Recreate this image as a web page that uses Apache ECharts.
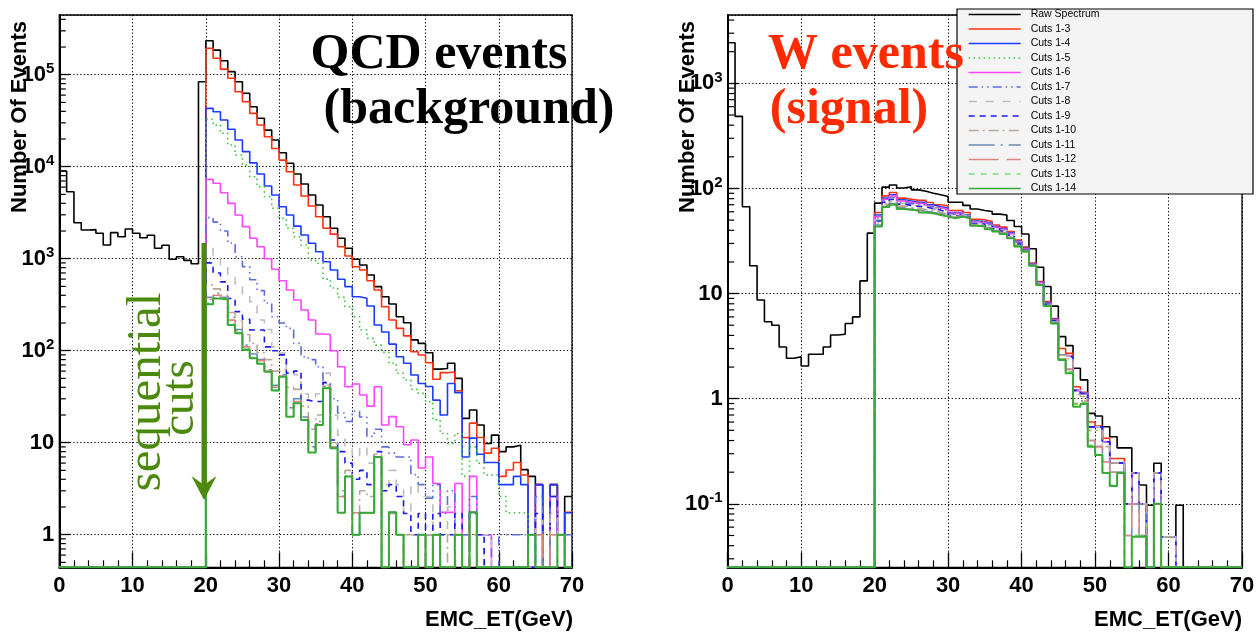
<!DOCTYPE html>
<html><head><meta charset="utf-8">
<script src="https://cdn.jsdelivr.net/npm/echarts@6/dist/echarts.min.js"></script>
<style>html,body{margin:0;padding:0;background:#fff;}#c{width:1259px;height:643px;}</style>
</head><body><div id="c"></div>
<script>
// ---------------- data ----------------
const binLowEdges = [0,1,2,3,4,5,6,7,8,9,10,11,12,13,14,15,16,17,18,19,20,21,22,23,24,25,26,27,28,29,30,31,32,33,34,35,36,37,38,39,40,41,42,43,44,45,46,47,48,49,50,51,52,53,54,55,56,57,58,59,60,61,62,63,64,65,66,67,68,69];
const binWidth = 1;
const xTickValues = [0,10,20,30,40,50,60,70];
const seriesNames = ['Raw Spectrum','Cuts 1-3','Cuts 1-4','Cuts 1-5','Cuts 1-6','Cuts 1-7','Cuts 1-8','Cuts 1-9','Cuts 1-10','Cuts 1-11','Cuts 1-12','Cuts 1-13','Cuts 1-14'];

// QCD events (background), left panel, one value per 1 GeV bin
const qcdRaw = [9000,5350,2460,2050,2070,1890,1410,1920,1730,2100,1890,1690,1800,1300,1400,985,1050,960,880,84000,
234000,185000,142000,108000,84000,62800,44900,33600,25000,19500,
14200,10900,8330,6490,4920,3830,2860,2140,1670,1300,
985,855,665,497,386,322,234,201,131,120,
95,63,64,73,50,18.4,22.7,15.6,9.8,12.1,
8.0,9.0,9.4,5.1,4.3,3.5,0,3.5,1,2.6];
const qcdCut3 = [0,0,0,0,0,0,0,0,0,0,0,0,0,0,0,0,0,0,0,0,
194000,151000,115000,91400,65300,50900,38000,28400,21200,15800,
11800,8830,6330,4800,3740,2860,2140,1850,1350,1070,
819,754,576,457,301,216,175,145,97.5,89.7,
74,48.9,57.7,58.7,36.7,11.4,16.3,11.4,7.7,8.7,
4.3,5.05,6.1,4.45,1,3.5,0,3.5,1,1.75];
const qcdCut4 = [0,0,0,0,0,0,0,0,0,0,0,0,0,0,0,0,0,0,0,0,
43100,39600,32200,25500,19500,14600,11000,8330,6170,4920,
3670,2990,2260,1810,1470,1190,927,754,597,497,
386,371,306,190,160,118,86,73,54.5,44,
40.8,29,20,44,35,7,11.2,7.5,6.1,6.1,
3.5,3.5,4.3,3.5,0,3.5,0,3.5,1,1.73];
const qcdCut5 = [0,0,0,0,0,0,0,0,0,0,0,0,0,0,0,0,0,0,0,0,
32800,28400,23100,17200,13400,10400,7790,6070,4720,3530,
2750,2140,1730,1410,968,891,600,480,380,300,
234,168,136,115,96,73,56.8,48,38,34.4,
27.9,17.7,12.6,9.8,12.6,4.3,9.0,6.0,4.45,4.45,
2.6,1.73,1.73,1.73,1,1,1,1,1,1];
const qcdCut6 = [0,0,0,0,0,0,0,0,0,0,0,0,0,0,0,0,0,0,0,0,
7300,6610,5210,4000,2990,2230,1670,1350,1000,767,
576,457,356,277,216,152,150,100,67,40.6,
43.5,33,25,40.6,15.6,19.2,14.9,9.5,10.7,5.3,
7.0,3.6,1.75,1.75,3.6,1,4.3,1,1,0,
0,0,0,0,0,0,0,2.6,1,0];
const qcdCut7 = [0,0,0,0,0,0,0,0,0,0,0,0,0,0,0,0,0,0,0,0,
2800,2500,2000,1480,1050,820,590,450,330,234,
200,175,120,86,80,67,45,30,21,17,
22,19,11.7,14,9,7.7,7,7,4.5,3.5,
2.5,3.5,1.7,3,1,1,2.6,1,1,0,
1,1,1,1,0,2.6,0,2.6,1,1];
const qcdCut8 = [0,0,0,0,0,0,0,0,0,0,0,0,0,0,0,0,0,0,0,0,
1360,1050,820,640,500,400,341,216,170,110,
94,62,55,34,30,34,57,20,12,9,
7,9,6,7,3.5,5,3.5,1.7,3.5,2.6,
2.6,1,1,2,1,0,1.7,0,1,0,
0,0,0,0,0,1.7,0,1.7,1,0];
const qcdCut9 = [0,0,0,0,0,0,0,0,0,0,0,0,0,0,0,0,0,0,0,0,
900,700,560,370,266,220,168,168,110,100,
90,57,60,29,28,28,45,10.7,8,6,
4,5,3.5,8,3,3.5,2.6,1.7,1,1.7,
1,1.7,1,1,1.7,0,1.7,1,0,0,
0,0,0,0,0,1.7,0,2.6,1,0];
const qcdCut10 = [0,0,0,0,0,0,0,0,0,0,0,0,0,0,0,0,0,0,0,0,
520,470,400,260,210,150,120,95,80,60,
62,40,38,25,14,20,42,10,3,5,
1.7,3,2.6,7.5,1,1.7,1,1,1,1,
1,1,0,1,1,0,1,0,0,0,
0,0,0,0,0,1,0,1.7,1,0];
const qcdCut11 = [0,0,0,0,0,0,0,0,0,0,0,0,0,0,0,0,0,0,0,0,
380,420,380,230,170,115,92,80,62,42,
55,24,30,19,9,17,41,9,2.6,4.3,
1,1.73,1.73,7,0,1.75,1,0,0,1,
0,1,0,0,1,0,1.75,0,0,0,
0,0,0,0,1,1,0,1,1,0];
const qcdCut12 = [0,0,0,0,0,0,0,0,0,0,0,0,0,0,0,0,0,0,0,0,
360,400,370,215,165,110,88,78,60,40,
53,22,28,19,8.5,16,40,9,2.6,4.3,
1.73,1.73,1.73,7,0,1.75,1,0,0,1,
0,1,0,0,1,0,1.75,0,0,0,
0,0,0,0,1,1,0,1,1,0];
const qcdCut13 = [0,0,0,0,0,0,0,0,0,0,0,0,0,0,0,0,0,0,0,0,
330,375,362,195,158,104,84,73,59,37,
52,19.2,26.8,17.7,7.8,15.6,39,8.7,1.73,4.3,
1,1.73,1.73,7,0,1.75,1,0,0,1,
0,1,0,0,1,0,1.75,0,0,0,
0,0,0,0,1,0,0,0,1,0];
const qcdCut14 = [0,0,0,0,0,0,0,0,0,0,0,0,0,0,0,0,0,0,0,0,
320,370,360,190,155,102,83,72,59,37,
52,19.2,26.8,17.7,7.8,15.6,39,8.7,1.73,4.3,
1,1.73,1.73,7,0,1.75,1,0,0,1,
0,1,0,0,1,0,1.75,0,0,0,
0,0,0,0,1,0,0,0,1,0];

// W events (signal), right panel
const wRaw = [2430,485,67,18.4,8.7,5.4,5.0,3.1,2.43,2.5,2.05,2.65,2.65,3.1,4.04,4.1,5.2,6.0,13.2,37.6,
72.6,103,108,101,104,97,94,90,87,84,
74,74,69,63.7,61.7,60.4,57,55.9,49.6,43.5,
36.9,26.7,17.8,11.7,7.6,3.9,3.2,1.95,1.51,0.726,
0.684,0.541,0.435,0.341,0.341,0.197,0.151,0.097,0.243,0.0485,
0.0485,0.097,0,0,0,0,0,0,0,0];
const wCut3 = [0,0,0,0,0,0,0,0,0,0,0,0,0,0,0,0,0,0,0,0,
59,85,91.6,81,79,77,77,73.6,70,68.4,
61.7,61.7,59,51,50.4,48.5,45,42.9,38.9,32.4,
27.7,19.5,13,8.4,5.8,3.0,2.7,1.3,1.15,0.6,
0.55,0.42,0.27,0.27,0.1,0.197,0.1,0,0.197,0.0485,
0.0485,0,0,0,0,0,0,0,0,0];
const wCut4 = [0,0,0,0,0,0,0,0,0,0,0,0,0,0,0,0,0,0,0,0,
56,81,87,78,76,74,74,70,67,65,
59,59,56,49,48.5,46.5,43.5,41.5,37.8,31.5,
27,19.2,12.8,8.2,5.7,2.6,2.5,1.2,1.12,0.54,
0.54,0.39,0.245,0.245,0.1,0.197,0.1,0,0.197,0.0485,
0.0485,0,0,0,0,0,0,0,0,0];
const wCut5 = [0,0,0,0,0,0,0,0,0,0,0,0,0,0,0,0,0,0,0,0,
55,80,86,77,75,73,73,69,66,64,
58,58,55.5,48.5,48,46,43,41,37.5,31.2,
26.8,19,12.7,8.1,5.6,2.6,2.5,1.2,1.12,0.54,
0.54,0.39,0.245,0.245,0.1,0.197,0.1,0,0.197,0.0485,
0.0485,0,0,0,0,0,0,0,0,0];
const wCut6 = [0,0,0,0,0,0,0,0,0,0,0,0,0,0,0,0,0,0,0,0,
54,79,85,76,74,72,72,68.5,65.5,63.5,
58,58,55,48,47.5,45.5,42.8,40.8,37.2,31,
26.6,19,12.7,8.1,5.6,2.6,2.5,1.2,1.12,0.54,
0.54,0.39,0.245,0.245,0.1,0.197,0.1,0,0.197,0.0485,
0.0485,0,0,0,0,0,0,0,0,0];
const wCut7 = [0,0,0,0,0,0,0,0,0,0,0,0,0,0,0,0,0,0,0,0,
52,77,82,74,72,70,70,67,64,62,
57,57,54.5,47.5,47,45,42.3,40.3,36.8,30.5,
26.3,18.9,12.6,8,5.5,2.6,2.5,1.2,1.12,0.54,
0.54,0.39,0.245,0.245,0.1,0.197,0.1,0,0.197,0.0485,
0.0485,0,0,0,0,0,0,0,0,0];
const wCut8 = [0,0,0,0,0,0,0,0,0,0,0,0,0,0,0,0,0,0,0,0,
50,75,80,72,70,68.5,68,65.5,63,60.5,
56,56,54,47,46.5,44.5,41.8,39.8,36.3,30,
26,18.8,12.5,7.9,5.5,2.6,2.5,1.2,1.12,0.54,
0.54,0.39,0.245,0.245,0.1,0.197,0.1,0,0.197,0.0485,
0.0485,0,0,0,0,0,0,0,0,0];
const wCut9 = [0,0,0,0,0,0,0,0,0,0,0,0,0,0,0,0,0,0,0,0,
49,74,78.5,71,69,67.5,66.5,64.5,62,59.5,
55,55.5,53.5,46.5,46,44,41.3,39.3,35.8,29.6,
25.8,18.7,12.4,7.9,5.5,2.6,2.5,1.2,1.12,0.54,
0.54,0.39,0.245,0.245,0.1,0.197,0.1,0,0.197,0.0485,
0.0485,0,0,0,0,0,0,0,0,0];
const wCut10 = [0,0,0,0,0,0,0,0,0,0,0,0,0,0,0,0,0,0,0,0,
47,71,75,68,66,65,63,62,59.5,57,
54,55,53,45.5,45,42.5,40,38,34.8,29,
25.5,18.6,12.3,7.8,5.4,2.6,2.4,1.1,1.05,0.5,
0.5,0.35,0.245,0.245,0.1,0.197,0.1,0,0.197,0.0485,
0.0485,0,0,0,0,0,0,0,0,0];
const wCut11 = [0,0,0,0,0,0,0,0,0,0,0,0,0,0,0,0,0,0,0,0,
45,68.5,72,65.5,64,63,60.5,59.5,57.5,55.5,
53,54.5,52.5,45,44.3,41.8,39.5,37.5,34.3,28.5,
25.3,18.5,12.2,7.7,5.3,2.4,1.9,0.9,0.95,0.4,
0.35,0.25,0.2,0.2,0.05,0.1,0.05,0,0.1,0,
0,0,0,0,0,0,0,0,0,0];
const wCut12 = [0,0,0,0,0,0,0,0,0,0,0,0,0,0,0,0,0,0,0,0,
44.5,67.5,71,64.5,63.3,62.3,59.7,58.7,56.7,54.7,
52.5,54.2,52.2,44.6,43.9,41.4,39.2,37.2,34,28.2,
25.2,18.4,12.1,7.6,5.2,2.4,1.9,0.9,0.95,0.4,
0.35,0.25,0.2,0.2,0.05,0.1,0.05,0,0.1,0,
0,0,0,0,0,0,0,0,0,0];
const wCut13 = [0,0,0,0,0,0,0,0,0,0,0,0,0,0,0,0,0,0,0,0,
44,67,70.5,64,63,62,59.3,58.3,56.3,54.3,
52.2,54,52,44.4,43.7,41.2,39,37,33.8,28.1,
25.1,18.4,12.1,7.6,5.2,2.4,1.8,0.88,0.92,0.36,
0.3,0.2,0.15,0.2,0,0.05,0.05,0,0.1,0,
0,0,0,0,0,0,0,0,0,0];
const wCut14 = [0,0,0,0,0,0,0,0,0,0,0,0,0,0,0,0,0,0,0,0,
43.5,66.5,70,63.7,62.7,61.7,59,58,56,54,
52,54,52,44.2,43.5,41,38.9,36.9,33.7,28,
25.1,18.4,12.1,7.6,5.2,2.34,1.75,0.84,0.89,0.349,
0.291,0.197,0.148,0.197,0,0.0485,0.0485,0,0.1,0,
0,0,0,0,0,0,0,0,0,0];

const qcdData = [qcdRaw,qcdCut3,qcdCut4,qcdCut5,qcdCut6,qcdCut7,qcdCut8,qcdCut9,qcdCut10,qcdCut11,qcdCut12,qcdCut13,qcdCut14];
const wData = [wRaw,wCut3,wCut4,wCut5,wCut6,wCut7,wCut8,wCut9,wCut10,wCut11,wCut12,wCut13,wCut14];

// axis ranges (log)
const qcdYMin = 0.442, qcdYMax = 446000;
const wYMin = 0.0249, wYMax = 4470;
const minorMultipliers = [2,3,4,5,6,7,8,9];
const qcdDecades = [0.1,1,10,100,1000,10000,100000];
const wDecades = [0.01,0.1,1,10,100,1000];

// ---------------- styles ----------------
const lineStyles = [
  {color:'#000000', type:'solid', width:1.6},
  {color:'#ff3010', type:'solid', width:1.6},
  {color:'#1a3cff', type:'solid', width:1.6},
  {color:'#33c433', type:[1.5,3.5], width:1.6},
  {color:'#ff44ff', type:'solid', width:1.6},
  {color:'#5c6cdc', type:[9,4,1.5,4,1.5,4], width:1.6},
  {color:'#bdbdbd', type:[8,9], width:1.6},
  {color:'#1a1aee', type:[6,5], width:1.6},
  {color:'#b9a797', type:[10,4,2,4], width:1.6},
  {color:'#6a8cb0', type:[26,6,2,6], width:1.6},
  {color:'#e08585', type:[30,8], width:1.6},
  {color:'#66dd66', type:[6,6], width:1.6},
  {color:'#38a838', type:'solid', width:2}
];
const FONT = '"Liberation Sans", Arial, Helvetica, sans-serif';
const SERIF = '"Liberation Serif", "Times New Roman", serif';
const GREEN = '#4b8a0c';

function stepPoints(vals, floor) {
  const pts = vals.map((v, i) => [binLowEdges[i], v > 0 ? v : floor]);
  const last = vals.length - 1;
  pts.push([binLowEdges[last] + binWidth, vals[last] > 0 ? vals[last] : floor]);
  return pts;
}
function logLabel(v) {
  const e = Math.round(Math.log10(v));
  if (Math.abs(v / Math.pow(10, e) - 1) > 1e-6) return '';
  if (e === 0) return '{b|1}';
  if (e === 1) return '{b|10}';
  return '{b|10}{s|' + e + '}';
}
function minorTickData(decades, lo, hi) {
  const out = [];
  decades.forEach(d => minorMultipliers.forEach(m => {
    const v = d * m;
    if (v > lo && v < hi) out.push([0, v]);
  }));
  return out;
}

const labelRich = {
  b: {fontSize:22, fontWeight:'bold', fontFamily:FONT, color:'#000', lineHeight:26},
  s: {fontSize:15, fontWeight:'bold', fontFamily:FONT, color:'#000', lineHeight:16, verticalAlign:'top'}
};
function xAxisCfg(gi) {
  return {
    gridIndex: gi, type:'value', min:xTickValues[0], max:xTickValues[xTickValues.length-1], interval:10,
    axisLine:{show:true, onZero:false, lineStyle:{color:'#000', width:2}},
    axisTick:{show:true, inside:true, length:15, lineStyle:{color:'#000', width:1.3}},
    minorTick:{show:true, splitNumber:5, length:7, lineStyle:{color:'#000', width:1.2}},
    axisLabel:{margin:8, fontSize:22, fontWeight:'bold', color:'#000', fontFamily:FONT},
    splitLine:{show:true, lineStyle:{color:'#000', width:1, type:[1.3,2.2]}}
  };
}
function yAxisCfg(gi, lo, hi) {
  return {
    gridIndex: gi, type:'log', logBase:10, min:lo, max:hi,
    axisLine:{show:true, onZero:false, lineStyle:{color:'#000', width:2}},
    axisTick:{show:true, inside:true, length:11, lineStyle:{color:'#000', width:1.3}},
    minorTick:{show:false},
    axisLabel:{margin:5, formatter:logLabel, rich:labelRich, showMinLabel:false, showMaxLabel:false},
    splitLine:{show:true, lineStyle:{color:'#000', width:1, type:[1.3,2.2]}}
  };
}

const series = [];
function addPanel(dataSets, gi, floor) {
  dataSets.forEach((vals, k) => {
    series.push({
      name: seriesNames[k], type:'line', xAxisIndex:gi, yAxisIndex:gi,
      step:'end', symbol:'none', showSymbol:false, clip:false, silent:true,
      lineStyle:{color:lineStyles[k].color, width:lineStyles[k].width, type:lineStyles[k].type},
      itemStyle:{color:lineStyles[k].color},
      data: stepPoints(vals, floor), z: 2 + k * 0.01
    });
  });
}
addPanel(qcdData, 0, qcdYMin);
addPanel(wData, 1, wYMin);

function minorSeries(gi, data) {
  return {
    type:'custom', xAxisIndex:gi, yAxisIndex:gi, silent:true, clip:false, z:3,
    data: data,
    renderItem: function (params, api) {
      const p = api.coord([api.value(0), api.value(1)]);
      return {type:'line', shape:{x1:p[0], y1:p[1], x2:p[0] + 6.5, y2:p[1]}, style:{stroke:'#000', lineWidth:1.2}};
    }
  };
}
series.push(minorSeries(0, minorTickData(qcdDecades, qcdYMin, qcdYMax)));
series.push(minorSeries(1, minorTickData(wDecades, wYMin, wYMax)));

const chart = echarts.init(document.getElementById('c'), null, {renderer:'canvas'});
chart.setOption({
  animation:false,
  backgroundColor:'#ffffff',
  grid:[
    {left:59.3, top:15, width:512.7, height:552.3, show:true, borderColor:'#000', borderWidth:1.3, backgroundColor:'transparent'},
    {left:727.7, top:15, width:514.3, height:552.3, show:true, borderColor:'#000', borderWidth:1.3, backgroundColor:'transparent'}
  ],
  xAxis:[xAxisCfg(0), xAxisCfg(1)],
  yAxis:[yAxisCfg(0, qcdYMin, qcdYMax), yAxisCfg(1, wYMin, wYMax)],
  legend:{
    data: seriesNames, orient:'vertical', left:968, top:9, itemWidth:52, itemHeight:10, itemGap:3.5,
    padding:0, selectedMode:false, z:6,
    itemStyle:{opacity:0},
    lineStyle:{width:1.3},
    textStyle:{fontSize:10.5, color:'#000', fontFamily:FONT, lineHeight:10, padding:[0,0,0,5]}
  },
  graphic:[
    {type:'rect', z:5, shape:{x:957, y:9, width:296, height:185}, style:{fill:'#f4f4f4', stroke:'#000', lineWidth:1.2}},
    {type:'text', z:10, x:439, y:55, style:{text:'QCD events', font:'bold 50px ' + SERIF, fill:'#000', textAlign:'center', textVerticalAlign:'middle', align:'center', verticalAlign:'middle'}},
    {type:'text', z:10, x:469, y:110, style:{text:'(background)', font:'bold 50px ' + SERIF, fill:'#000', textAlign:'center', textVerticalAlign:'middle', align:'center', verticalAlign:'middle'}},
    {type:'text', z:10, x:866, y:55, style:{text:'W events', font:'bold 50px ' + SERIF, fill:'#ff2a00', textAlign:'center', textVerticalAlign:'middle', align:'center', verticalAlign:'middle'}},
    {type:'text', z:10, x:849, y:110, style:{text:'(signal)', font:'bold 50px ' + SERIF, fill:'#ff2a00', textAlign:'center', textVerticalAlign:'middle', align:'center', verticalAlign:'middle'}},
    {type:'text', z:10, x:147, y:392, rotation:Math.PI/2, style:{text:'sequential', font:'49px ' + SERIF, fill:GREEN, textAlign:'center', textVerticalAlign:'middle', align:'center', verticalAlign:'middle'}},
    {type:'text', z:10, x:181, y:398, rotation:Math.PI/2, style:{text:'cuts', font:'47px ' + SERIF, fill:GREEN, textAlign:'center', textVerticalAlign:'middle', align:'center', verticalAlign:'middle'}},
    {type:'line', z:10, shape:{x1:204, y1:243, x2:204, y2:486}, style:{stroke:GREEN, lineWidth:5}},
    {type:'polygon', z:10, shape:{points:[[191.5,476],[204,485],[216.5,476],[204,500]]}, style:{fill:GREEN}},
    {type:'text', z:10, x:20, y:117, rotation:Math.PI/2, style:{text:'Number Of Events', font:'bold 22px ' + FONT, fill:'#000', textAlign:'center', textVerticalAlign:'middle', align:'center', verticalAlign:'middle'}},
    {type:'text', z:10, x:688, y:117, rotation:Math.PI/2, style:{text:'Number Of Events', font:'bold 22px ' + FONT, fill:'#000', textAlign:'center', textVerticalAlign:'middle', align:'center', verticalAlign:'middle'}},
    {type:'text', z:10, x:573, y:620, style:{text:'EMC_ET(GeV)', font:'bold 22px ' + FONT, fill:'#000', textAlign:'right', textVerticalAlign:'middle', align:'right', verticalAlign:'middle'}},
    {type:'text', z:10, x:1242, y:620, style:{text:'EMC_ET(GeV)', font:'bold 22px ' + FONT, fill:'#000', textAlign:'right', textVerticalAlign:'middle', align:'right', verticalAlign:'middle'}}
  ],
  series: series
});
</script>
</body></html>
